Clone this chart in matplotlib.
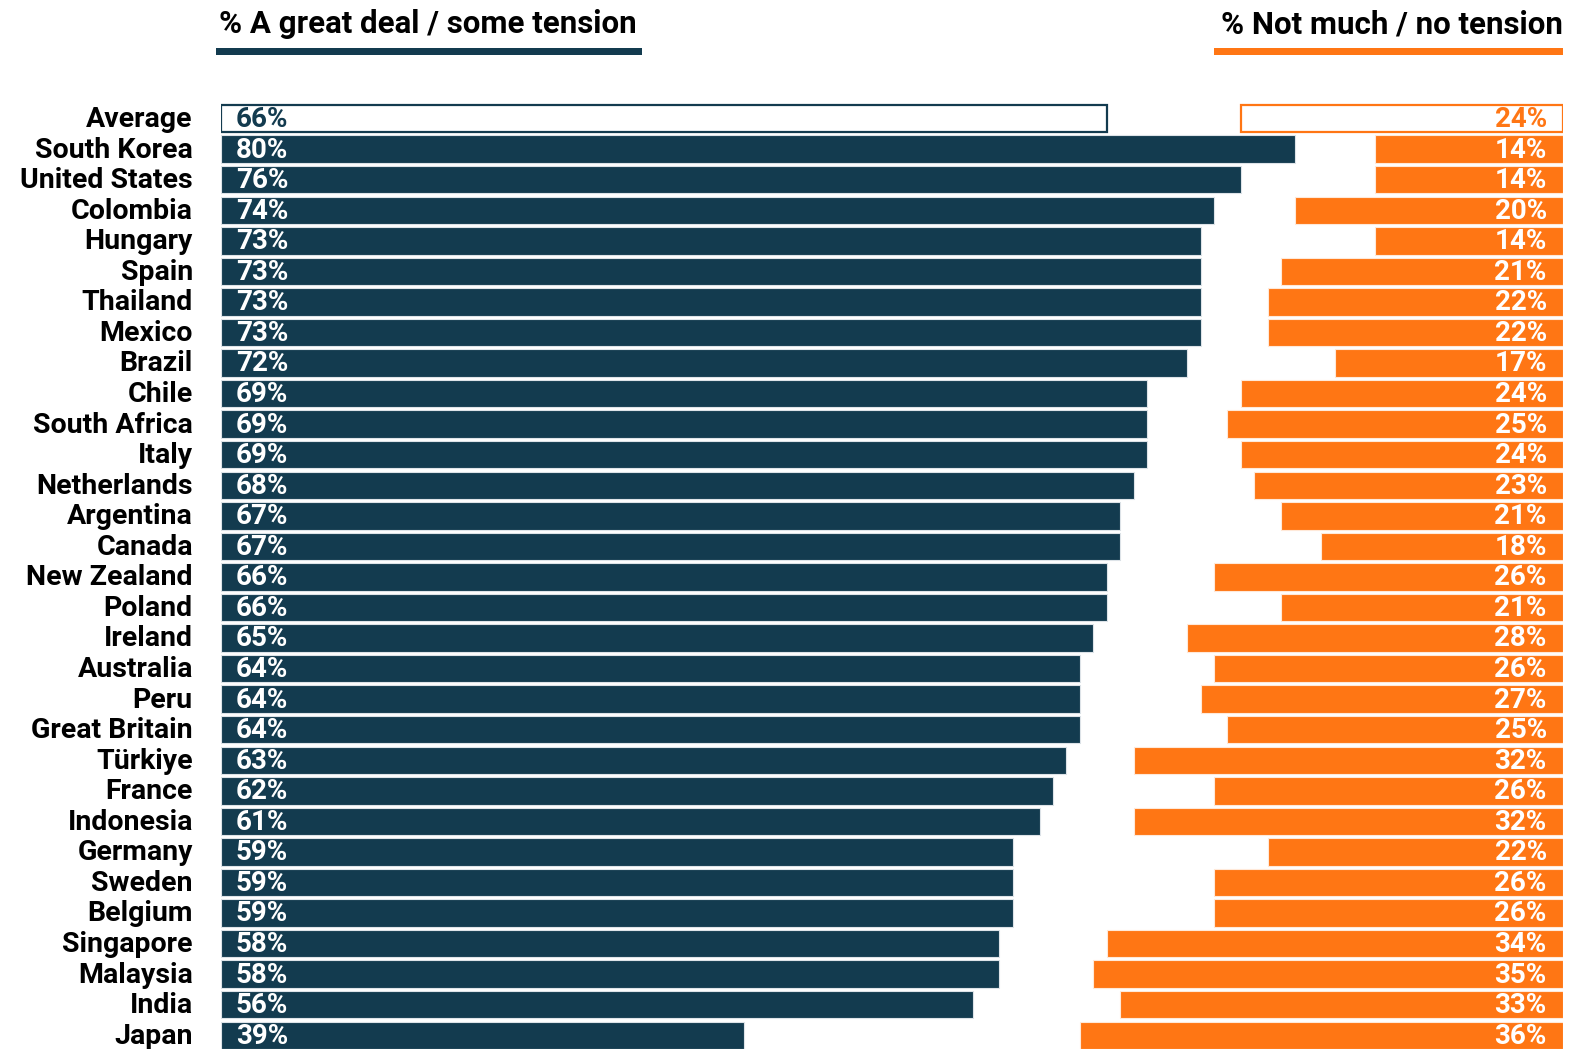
import matplotlib.pyplot as plt
from matplotlib.patches import Rectangle

countries = ["Average", "South Korea", "United States", "Colombia", "Hungary", "Spain",
             "Thailand", "Mexico", "Brazil", "Chile", "South Africa", "Italy",
             "Netherlands", "Argentina", "Canada", "New Zealand", "Poland", "Ireland",
             "Australia", "Peru", "Great Britain", "Türkiye", "France", "Indonesia",
             "Germany", "Sweden", "Belgium", "Singapore", "Malaysia", "India", "Japan"]
tension = [66, 80, 76, 74, 73, 73, 73, 73, 72, 69, 69, 69, 68, 67, 67, 66, 66, 65,
           64, 64, 64, 63, 62, 61, 59, 59, 59, 58, 58, 56, 39]
no_tension = [24, 14, 14, 20, 14, 21, 22, 22, 17, 24, 25, 24, 23, 21, 18, 26, 21, 28,
              26, 27, 25, 32, 26, 32, 22, 26, 26, 34, 35, 33, 36]

navy = "#133B4F"
orange = "#FF7614"
font = ["Roboto", "DejaVu Sans"]

fig = plt.figure(figsize=(15.9, 10.49), dpi=100)
ax = fig.add_axes([0.139, -0.0015, 0.844, 0.903])

rows = range(len(countries))
for i in rows:
    avg = countries[i] == "Average"
    # left bar: share reporting tension
    ax.barh(i, tension[i], height=0.9, left=0,
            color="white" if avg else navy,
            edgecolor=navy if avg else "#dde3e8", linewidth=1.6 if avg else 0.8)
    # right bar: share reporting little/no tension, anchored at 100
    ax.barh(i, no_tension[i], height=0.9, left=100 - no_tension[i],
            color="white" if avg else orange,
            edgecolor=orange if avg else "#ffe9d9", linewidth=1.6 if avg else 0.8)
    ax.text(1.1, i + 0.03, f"{tension[i]}%", ha="left", va="center", fontsize=20,
            fontweight="bold", family=font, color=navy if avg else "white")
    ax.text(98.8, i + 0.03, f"{no_tension[i]}%", ha="right", va="center", fontsize=20,
            fontweight="bold", family=font, color=orange if avg else "white")
    ax.text(-2.1, i + 0.03, countries[i], ha="right", va="center", fontsize=20.5,
            fontweight="bold", family=font, color="black")

ax.set_xlim(0, 100)
ax.set_ylim(len(countries) - 0.5, -0.5)
ax.axis("off")

# column headers with coloured underlines
fig.text(0.138, 0.977, "% A great deal / some tension", ha="left", va="center",
         fontsize=22.5, fontweight="bold", family=font, color="black")
fig.text(0.9828, 0.977, "% Not much / no tension", ha="right", va="center",
         fontsize=22.5, fontweight="bold", family=font, color="black")
fig.add_artist(Rectangle((0.1358, 0.9478), 0.2679, 0.0067, transform=fig.transFigure,
                         color=navy, lw=0))
fig.add_artist(Rectangle((0.7634, 0.9478), 0.2194, 0.0067, transform=fig.transFigure,
                         color=orange, lw=0))

fig.savefig("out.png", dpi=100, facecolor="white")
